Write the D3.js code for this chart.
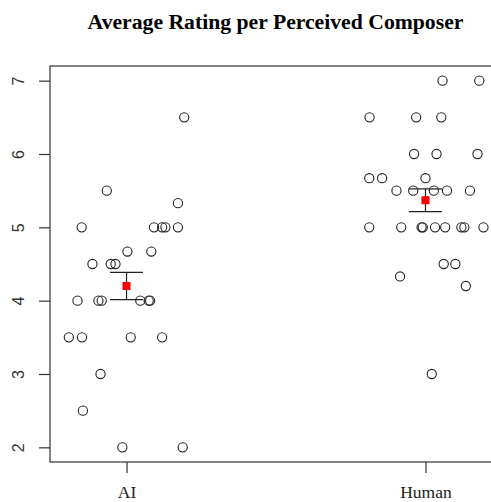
<!DOCTYPE html>
<html>
<head>
<meta charset="utf-8">
<script src="https://cdn.jsdelivr.net/npm/d3@7"></script>
<style>
  html, body { margin: 0; padding: 0; background: #fff; }
  svg { display: block; }
</style>
</head>
<body>
<svg id="chart" width="491" height="502"></svg>
<script>
// ---- Data ----
const categories = ["AI", "Human"];
const yTicks = [2, 3, 4, 5, 6, 7];

// jittered x positions (in category units) and ratings
const aiX = [1.193, 0.934, 1.172, 0.850, 1.092, 1.119, 1.130, 1.172, 1.003, 1.083,
             0.886, 0.947, 0.963, 0.836, 0.906, 0.917, 1.046, 1.074, 1.079,
             0.807, 0.851, 1.014, 1.119, 0.913, 0.854, 0.986, 1.188];
const aiY = [6.5, 5.5, 5.33, 5, 5, 5, 5, 5, 4.67, 4.67,
             4.5, 4.5, 4.5, 4, 4, 4, 4, 4, 4,
             3.5, 3.5, 3.5, 3.5, 3, 2.5, 2, 2];

const humanX = [2.057, 2.180, 1.813, 1.969, 2.053, 1.962, 2.037, 2.174, 1.812, 1.855,
                2.000, 1.903, 1.959, 2.028, 2.072, 2.149, 1.812, 1.919, 1.987, 1.991,
                2.032, 2.066, 2.120, 2.130, 2.194, 2.061, 2.100, 1.915, 2.135, 2.021];
const humanY = [7, 7, 6.5, 6.5, 6.5, 6, 6, 6, 5.67, 5.67,
                5.67, 5.5, 5.5, 5.5, 5.5, 5.5, 5, 5, 5, 5,
                5, 5, 5, 5, 5, 4.5, 4.5, 4.33, 4.2, 3];

const means = [4.20, 5.37];
const ses = [0.185, 0.155];

// ---- Layout ----
const svg = d3.select("#chart");
const mLeft = 50, mTop = 66, mBottom = 462, mRight = 502;

const x = d3.scaleLinear().domain([0.744, 2.256]).range([mLeft, mRight]);
const y = d3.scaleLinear().domain([1.8, 7.2]).range([mBottom, mTop]);

// Title
svg.append("text")
  .attr("x", 275.5).attr("y", 29)
  .attr("text-anchor", "middle")
  .attr("font-family", "'Liberation Serif', 'Times New Roman', serif")
  .attr("font-weight", "bold")
  .attr("font-size", 21.7)
  .text("Average Rating per Perceived Composer");

// Box
svg.append("rect")
  .attr("x", mLeft).attr("y", mTop)
  .attr("width", mRight - mLeft).attr("height", mBottom - mTop)
  .attr("fill", "none").attr("stroke", "#333").attr("stroke-width", 1.2);

// Y axis
const yAxis = d3.axisLeft(y).tickValues(yTicks).tickSize(11).tickPadding(0).tickFormat(d3.format("d"));
const gy = svg.append("g").attr("transform", `translate(${mLeft},0)`).call(yAxis);
gy.select(".domain").remove();
gy.selectAll(".tick line").attr("stroke", "#333").attr("stroke-width", 1.2);
gy.selectAll(".tick text").remove();
gy.selectAll(".tick").append("text")
  .attr("transform", "translate(-32,0) rotate(-90)")
  .attr("text-anchor", "middle")
  .attr("dy", "0.35em")
  .attr("fill", "#333")
  .attr("font-family", "'Liberation Sans', Arial, sans-serif")
  .attr("font-size", 16)
  .text(d => d);

// X axis
const xAxis = d3.axisBottom(x).tickValues([1, 2]).tickSize(11).tickPadding(0).tickFormat((d, i) => categories[i]);
const gx = svg.append("g").attr("transform", `translate(0,${mBottom})`).call(xAxis);
gx.select(".domain").remove();
gx.selectAll(".tick line").attr("stroke", "#333").attr("stroke-width", 1.2);
gx.selectAll(".tick text")
  .attr("y", 36)
  .attr("dy", 0)
  .attr("fill", "#222")
  .attr("font-family", "'Liberation Serif', 'Times New Roman', serif")
  .attr("font-size", 17.5);

// Points
const pts = aiX.map((d, i) => ({ x: d, y: aiY[i] }))
  .concat(humanX.map((d, i) => ({ x: d, y: humanY[i] })));
svg.append("g").selectAll("circle").data(pts).join("circle")
  .attr("cx", d => x(d.x)).attr("cy", d => y(d.y)).attr("r", 4.6)
  .attr("fill", "none").attr("stroke", "#222").attr("stroke-width", 1.1);

// Error bars and means
const capHalf = 0.055;
const eb = svg.append("g");
means.forEach((m, i) => {
  const cx = i + 1;
  const lo = m - ses[i], hi = m + ses[i];
  eb.append("line").attr("x1", x(cx)).attr("x2", x(cx)).attr("y1", y(lo)).attr("y2", y(hi))
    .attr("stroke", "#222").attr("stroke-width", 1.2);
  [lo, hi].forEach(v => {
    eb.append("line").attr("x1", x(cx - capHalf)).attr("x2", x(cx + capHalf))
      .attr("y1", y(v)).attr("y2", y(v)).attr("stroke", "#222").attr("stroke-width", 1.2);
  });
  eb.append("rect").attr("x", x(cx) - 4).attr("y", y(m) - 4).attr("width", 8).attr("height", 8)
    .attr("fill", "#ff0000");
});
</script>
</body>
</html>
